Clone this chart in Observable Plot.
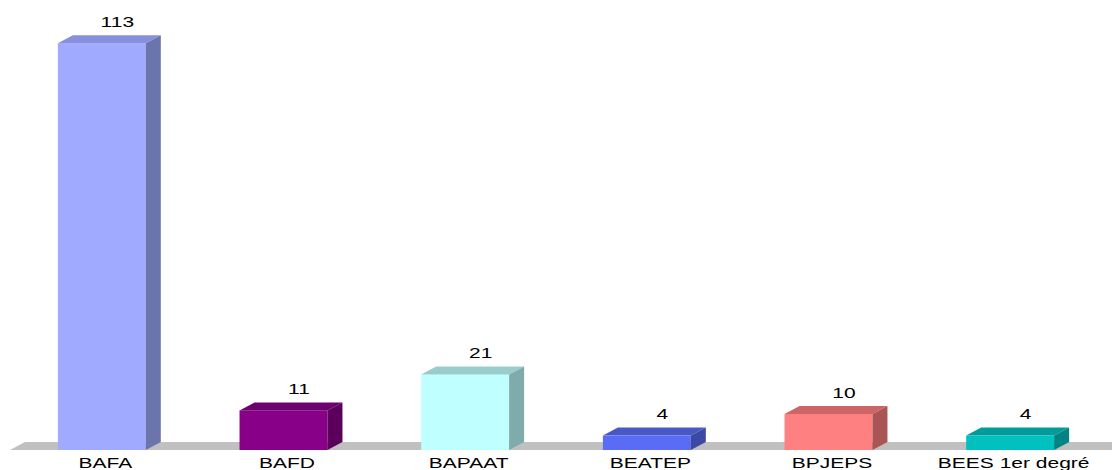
<!DOCTYPE html>
<html><head><meta charset="utf-8">
<script src="https://cdn.jsdelivr.net/npm/d3@7"></script>
<script src="https://cdn.jsdelivr.net/npm/@observablehq/plot@0.6"></script>
<style>
html,body{margin:0;padding:0;background:#fff;}
#chart svg{display:block;}
</style>
</head><body><div id="chart"></div>
<script>
const categories = ["BAFA", "BAFD", "BAPAAT", "BEATEP", "BPJEPS", "BEES 1er degré"];
const values = [113, 11, 21, 4, 10, 4];
const frontColors = ["#a0aaff", "#880088", "#c0ffff", "#5a6cf5", "#ff8080", "#00c0c0"];
const topColors = ["#8790dc", "#6c006c", "#99cccc", "#4858c8", "#cc6666", "#009c9c"];
const sideColors = ["#6b74ab", "#5a005a", "#80abab", "#3c48a4", "#aa5555", "#008383"];

const data = categories.map((c, i) => ({cat: c, value: values[i], top: topColors[i], side: sideColors[i]}));

const DX = 15, DY = 8, SX = 1.4;

function floorMark(index, {x, y}, values, dims) {
  const g = d3.create("svg:g");
  const [x0] = x.range();
  const y0 = y(0);
  g.append("path").attr("fill", "#c0c0c0")
    .attr("d", `M${x0 - 1},${y0}L${x0 - 1 + DX},${y0 - DY}L${dims.width},${y0 - DY}L${dims.width},${y0}Z`);
  return g.node();
}

function facesMark(index, {x, y}) {
  const g = d3.create("svg:g");
  const bw = x.bandwidth();
  for (const d of data) {
    const xl = x(d.cat), xr = xl + bw, yt = y(d.value), yb = y(0);
    g.append("path").attr("fill", d.top)
      .attr("d", `M${xl},${yt}L${xl + DX},${yt - DY}L${xr + DX},${yt - DY}L${xr},${yt}Z`);
    g.append("path").attr("fill", d.side)
      .attr("d", `M${xr},${yt}L${xr + DX},${yt - DY}L${xr + DX},${yb - DY}L${xr},${yb}Z`);
  }
  return g.node();
}

const chart = Plot.plot({
  width: 1112, height: 470,
  marginLeft: 11, marginRight: 11, marginTop: 18, marginBottom: 20,
  x: {domain: categories, paddingInner: 0.516, paddingOuter: 0.258, round: false, axis: null},
  y: {domain: [0, 120], axis: null},
  color: {domain: categories, range: frontColors},
  style: {fontFamily: "'Liberation Sans', Arial, sans-serif", background: "white"},
  marks: [
    floorMark,
    Plot.barY(data, {x: "cat", y: "value", fill: "cat"}),
    facesMark,
    Plot.text(data, {x: "cat", y: "value", text: d => String(d.value), dx: DX, dy: -17, lineAnchor: "bottom", fontSize: 15, fill: "#000"}),
    Plot.text(data, {x: "cat", frameAnchor: "bottom", text: "cat", dx: 3, dy: 17, lineAnchor: "bottom", fontSize: 15, fill: "#000"})
  ]
});
chart.querySelectorAll("text").forEach(t => {
  const tr = t.getAttribute("transform");
  if (tr != null) t.setAttribute("transform", tr + ` scale(${SX},1)`);
});
document.getElementById("chart").appendChild(chart);
</script>
</body></html>
